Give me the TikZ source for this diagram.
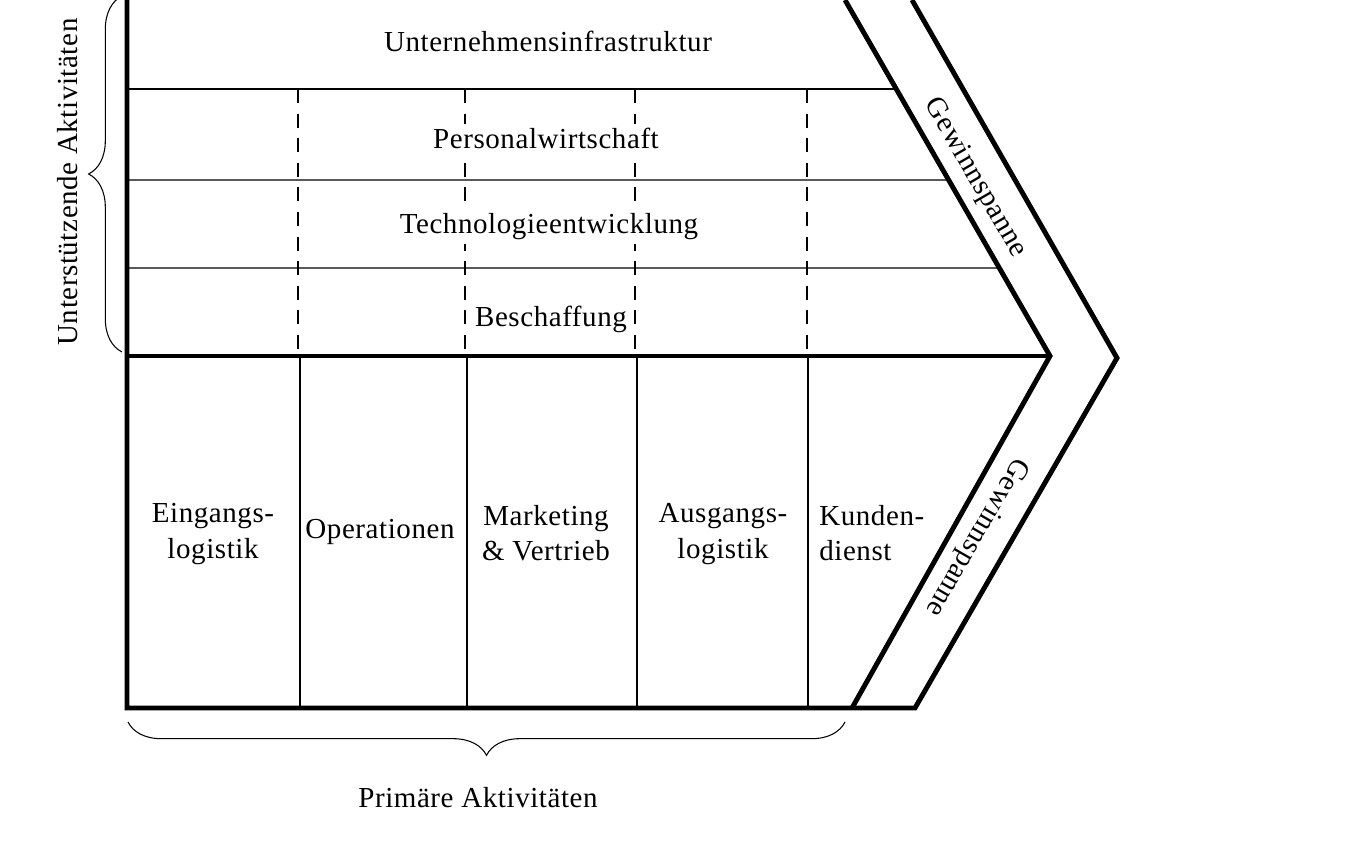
\documentclass[tikz,border=0pt]{standalone}
\usepackage{fontspec}
\setmainfont[LetterSpace=2]{Liberation Serif}
\usetikzlibrary{calc,decorations.pathreplacing}

\begin{document}
\begin{tikzpicture}[x=0.02cm,y=-0.02cm,font=\fontsize{16.5}{20}\selectfont,
            thick line/.style={line width=2.8pt,line join=miter},
            thin line/.style={line width=0.8pt},
            dash line/.style={line width=0.8pt,dash pattern=on 8pt off 6pt},
            lbl/.style={inner sep=0pt,align=center},
            zeile/.style={lbl,fill=white,inner sep=2pt},
            klammer/.style={decorate,decoration={brace,amplitude=19pt},line width=0.6pt}]
            \useasboundingbox (0,0) rectangle (1350,854);
            \def\links{127}
            \def\mitte{356}
            \def\boden{708}

            \coordinate (oben) at (845,0);
            \coordinate (spitze) at (1050,\mitte);
            \coordinate (unten) at (852,\boden);
            \coordinate (aoben) at (912,0);
            \coordinate (aspitze) at (1117,358);
            \coordinate (aunten) at (915,\boden);

            \foreach \y in {89,180,268}
                \draw[thin line] (\links,\y) -- ($(oben)!\y/\mitte!(spitze)$);
            \foreach \x in {298,465,635,807}
                \draw[dash line] (\x,89) -- (\x,\mitte);
            \foreach \x in {300,467,637,808}
                \draw[thin line] (\x,\mitte) -- (\x,\boden);

            \draw[thick line] (\links,0) -- (\links,\boden) -- (aunten) -- (aspitze) -- (aoben);
            \draw[thick line] (oben) -- (spitze) -- (unten);
            \draw[thick line] (\links,\mitte) -- (spitze);

            \node[zeile] (infra) at (548,41) {Unternehmensinfrastruktur};
            \node[zeile] (personal) at (546,138) {Personalwirtschaft};
            \node[zeile] (techno) at (549,227) {Technologieentwicklung};
            \node[zeile] (beschaff) at (551,319) {Beschaffung};

            \node[lbl] (eingang) at (213,534) {Eingangs-\\logistik};
            \node[lbl] (oper) at (380,532) {Operationen};
            \node[lbl] (marketing) at (546,533) {Marketing\\\& Vertrieb};
            \node[lbl] (ausgang) at (723,534) {Ausgangs-\\logistik};
            \node[lbl,align=left,anchor=west] (kunden) at (819,533) {Kunden-\\dienst};

            \node[lbl,rotate=-60] (spanne1) at (975,178) {Gewinnspanne};
            \node[lbl,rotate=240] (spanne2) at (976,537) {Gewinnspanne};

            \draw[klammer] (122,352) -- (122,-4);
            \node[lbl,rotate=90] (unterst) at (68,182) {Unterstützende Aktivitäten};
            \draw[klammer] (845,722) -- (128,722);
            \node[lbl] (primaer) at (478,798) {Primäre Aktivitäten};
        \end{tikzpicture}
\end{document}
